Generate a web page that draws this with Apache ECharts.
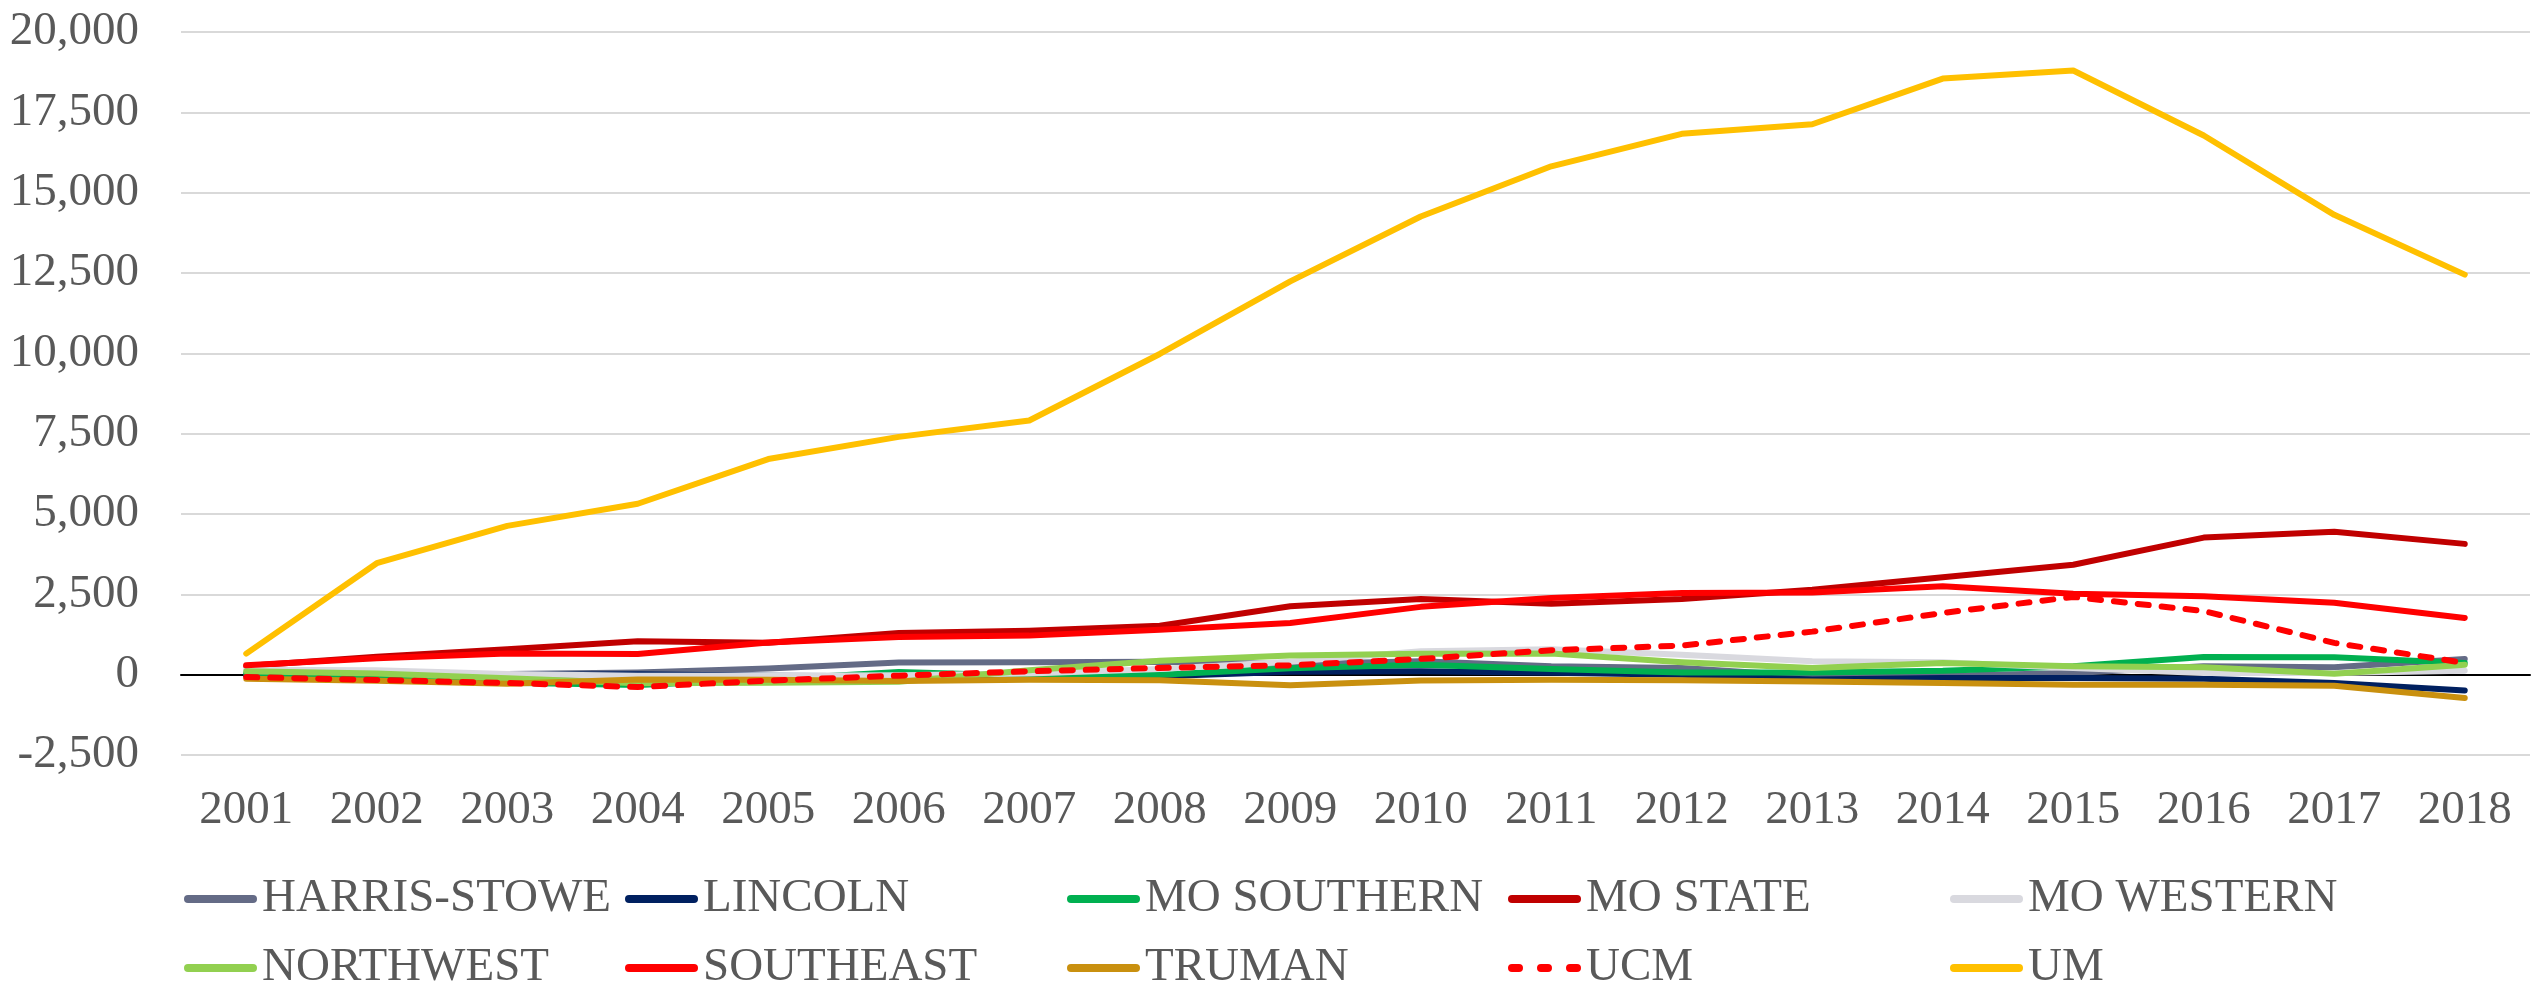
<!DOCTYPE html>
<html>
<head>
<meta charset="utf-8">
<title>Enrollment change by university</title>
<script src="https://cdn.jsdelivr.net/npm/echarts@6/dist/echarts.min.js"></script>
<style>
  html, body { margin: 0; padding: 0; background: #fff; }
  #chart { width: 2534px; height: 994px; }
</style>
</head>
<body>
<div id="chart"></div>
<script>
// categories
const years = ['2001', '2002', '2003', '2004', '2005', '2006', '2007', '2008', '2009',
  '2010', '2011', '2012', '2013', '2014', '2015', '2016', '2017', '2018'];

// series values
const harrisStowe = [-20, -10, 20, 70, 190, 380, 385, 405, 330, 415, 260, 210, -50, -30, 50, 260, 230, 490];
const lincoln = [-30, -20, 0, 10, -30, -50, -40, -50, 90, 110, 60, 0, -150, -105, -105, -125, -260, -490];
const moSouthern = [50, -50, -250, -320, -150, 80, -30, 0, 200, 310, 180, 70, 70, 120, 260, 550, 540, 360];
const moState = [270, 560, 790, 1040, 990, 1300, 1370, 1525, 2130, 2355, 2210, 2355, 2645, 3030, 3420, 4265, 4450, 4070];
const moWestern = [150, 135, 20, -30, -30, -20, 40, 180, 400, 730, 790, 620, 415, 385, 210, 50, 50, 125];
const northwest = [105, 40, -110, -270, -250, -220, 140, 435, 600, 650, 660, 390, 210, 360, 260, 230, 30, 310];
const southeast = [290, 510, 655, 645, 1000, 1175, 1215, 1400, 1610, 2110, 2385, 2540, 2560, 2750, 2520, 2440, 2240, 1765];
const truman = [-130, -190, -280, -150, -160, -200, -155, -175, -330, -185, -155, -175, -210, -260, -310, -310, -345, -725];
const ucm = [-75, -165, -260, -385, -185, -30, 105, 210, 290, 490, 760, 905, 1340, 1920, 2420, 1980, 990, 365];
const um = [655, 3470, 4630, 5320, 6710, 7400, 7910, 9980, 12240, 14260, 15820, 16830, 17130, 18550, 18800, 16780, 14310, 12450];

// value axis ticks
const yMin = -2500;
const yMax = 20000;
const yStep = 2500;

const names = ['HARRIS-STOWE', 'LINCOLN', 'MO SOUTHERN', 'MO STATE', 'MO WESTERN',
  'NORTHWEST', 'SOUTHEAST', 'TRUMAN', 'UCM', 'UM'];
const values = [harrisStowe, lincoln, moSouthern, moState, moWestern,
  northwest, southeast, truman, ucm, um];
const colors = ['#646B86', '#002060', '#00B050', '#C00000', '#D9D9DF',
  '#92D050', '#FF0000', '#C9900F', '#FF0000', '#FFC000'];

const font = "'Liberation Serif', 'Times New Roman', serif";
const textColor = '#595959';

const lineIcon = 'path://M4,0h65a4,4 0 0 1 0,8h-65a4,4 0 0 1 0,-8z';
const dotIcon = 'path://M4,0h7a4,4 0 0 1 0,8h-7a4,4 0 0 1 0,-8z' +
  'M33,0h7a4,4 0 0 1 0,8h-7a4,4 0 0 1 0,-8z' +
  'M62,0h7a4,4 0 0 1 0,8h-7a4,4 0 0 1 0,-8z';

const series = names.map((name, i) => ({
  name: name,
  type: 'line',
  xAxisIndex: 0,
  data: values[i],
  symbol: 'none',
  color: colors[i],
  lineStyle: {
    color: colors[i],
    width: 6,
    cap: 'round',
    join: 'round',
    type: name === 'UCM' ? [11, 13] : 'solid'
  },
  emphasis: { disabled: true }
}));

// five legend columns, two rows each
const legendLeft = [184, 625, 1067, 1508, 1950];
const legend = legendLeft.map((left, k) => ({
  left: left,
  top: 874,
  orient: 'vertical',
  padding: 0,
  itemWidth: 73,
  itemHeight: 8,
  itemGap: 19,
  selectedMode: false,
  itemStyle: { borderWidth: 0 },
  data: [k, k + 5].map(i => ({
    name: names[i],
    icon: names[i] === 'UCM' ? dotIcon : lineIcon,
    itemStyle: { color: colors[i], borderWidth: 0 }
  })),
  textStyle: { fontFamily: font, fontSize: 47, color: textColor, lineHeight: 50 }
}));

const option = {
  animation: false,
  backgroundColor: '#fff',
  grid: { left: 181, right: 4, top: 32, bottom: 239, containLabel: false, outerBoundsMode: 'none' },
  legend: legend,
  xAxis: [
    {
      type: 'category',
      data: years,
      position: 'bottom',
      axisLine: { show: false, onZero: false },
      axisTick: { show: false },
      splitLine: { show: false },
      axisLabel: { fontFamily: font, fontSize: 47, color: textColor, margin: 32 }
    },
    {
      // zero line
      type: 'category',
      data: years,
      position: 'bottom',
      axisLine: { show: true, onZero: true, lineStyle: { color: '#000', width: 2 } },
      axisTick: { show: false },
      splitLine: { show: false },
      axisLabel: { show: false }
    }
  ],
  yAxis: {
    type: 'value',
    min: yMin,
    max: yMax,
    interval: yStep,
    axisLine: { show: false },
    axisTick: { show: false },
    splitLine: { lineStyle: { color: '#D9D9D9', width: 2 } },
    axisLabel: {
      fontFamily: font,
      fontSize: 47,
      color: textColor,
      margin: 42,
      formatter: v => v.toLocaleString('en-US')
    }
  },
  series: series
};

const chart = echarts.init(document.getElementById('chart'));
chart.setOption(option);
</script>
</body>
</html>
